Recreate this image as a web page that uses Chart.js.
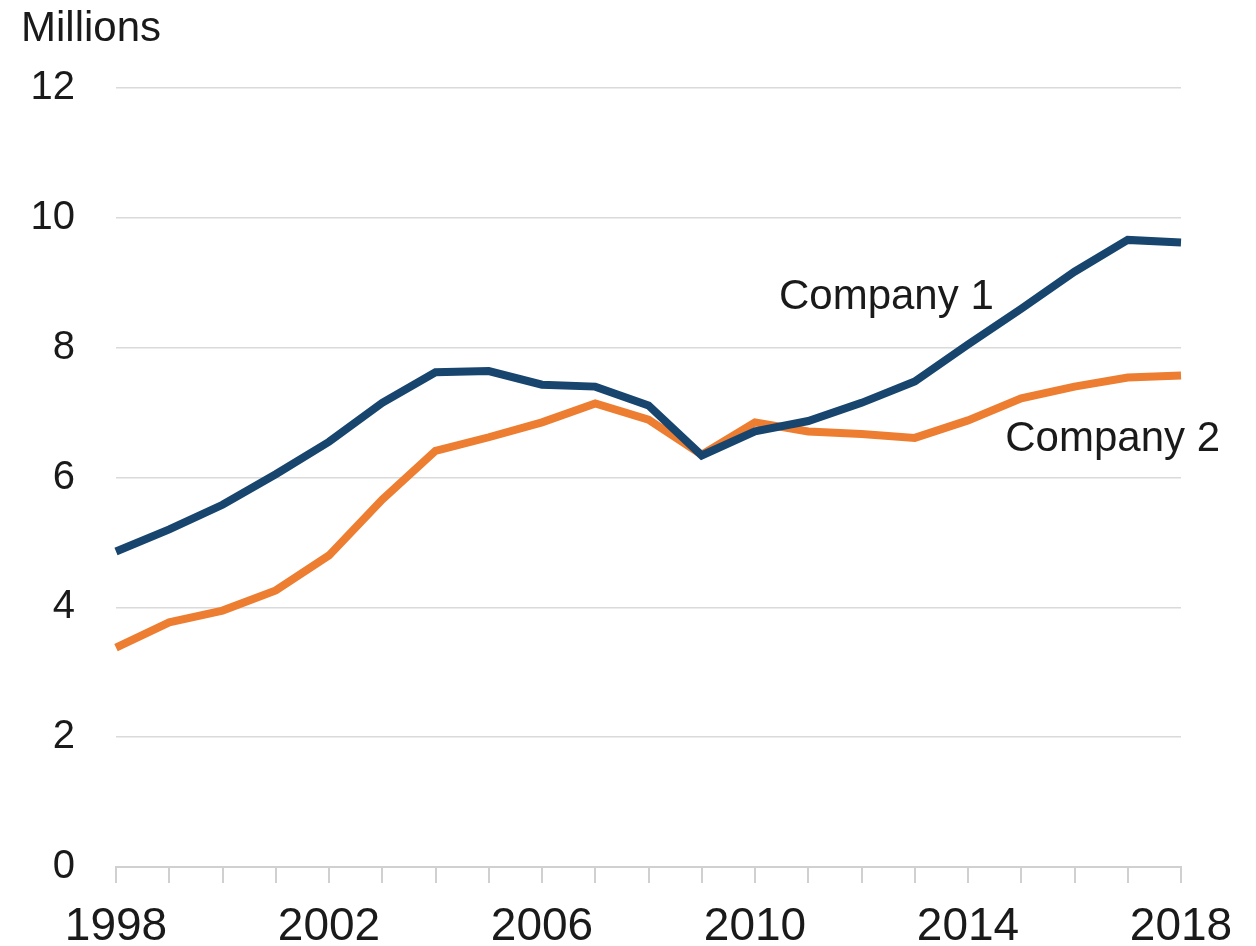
<!DOCTYPE html>
<html>
<head>
<meta charset="utf-8">
<script src="https://cdn.jsdelivr.net/npm/chart.js@4.4.1/dist/chart.umd.min.js"></script>
<style>
  html, body { margin: 0; padding: 0; background: #fff; }
  #wrap { width: 1256px; height: 946px; position: relative; }
</style>
</head>
<body>
<div id="wrap"><canvas id="chart"></canvas></div>
<script>
const years = ['1998','1999','2000','2001','2002','2003','2004','2005','2006','2007','2008',
               '2009','2010','2011','2012','2013','2014','2015','2016','2017','2018'];

const company1 = [4.86, 5.2, 5.58, 6.05, 6.55, 7.15, 7.62, 7.64, 7.43, 7.4, 7.11,
                  6.34, 6.71, 6.87, 7.15, 7.48, 8.05, 8.6, 9.17, 9.66, 9.62];

const company2 = [3.38, 3.77, 3.95, 4.26, 4.8, 5.66, 6.41, 6.62, 6.85, 7.14, 6.89,
                  6.35, 6.85, 6.71, 6.67, 6.61, 6.88, 7.22, 7.4, 7.54, 7.57];

const yTicks = [0, 2, 4, 6, 8, 10, 12];

// series name labels placed next to the lines (x = year index, y = value)
const seriesLabels = [
    { text: 'Company 1', x: 12.45, y: 8.77 },
    { text: 'Company 2', x: 16.7, y: 6.58 }
];

const FONT = '"Liberation Sans", Arial, sans-serif';
const TEXT = '#1a1a1a';

const labelPlugin = {
    id: 'labels',
    afterDatasetsDraw(chart) {
        const { ctx, scales: { x, y } } = chart;
        ctx.save();
        ctx.fillStyle = TEXT;
        ctx.font = '42px ' + FONT;
        ctx.textAlign = 'left';
        ctx.textBaseline = 'middle';
        seriesLabels.forEach(l => {
            ctx.fillText(l.text, x.getPixelForValue(l.x), y.getPixelForValue(l.y));
        });
        // unit title above the value axis
        ctx.font = '42px ' + FONT;
        ctx.textBaseline = 'top';
        ctx.fillText('Millions', 21, 8);
        ctx.restore();
    }
};

const ctx = document.getElementById('chart').getContext('2d');

new Chart(ctx, {
    type: 'line',
    data: {
        labels: years,
        datasets: [
            { label: 'Company 1', data: company1, borderColor: '#17456e', borderWidth: 8,
              pointRadius: 0, tension: 0, borderJoinStyle: 'miter' },
            { label: 'Company 2', data: company2, borderColor: '#ed7d31', borderWidth: 8,
              pointRadius: 0, tension: 0, borderJoinStyle: 'miter' }
        ]
    },
    options: {
        responsive: true,
        maintainAspectRatio: false,
        animation: false,
        layout: { padding: { top: 88, right: 75, left: 0, bottom: 0 } },
        plugins: { legend: { display: false }, tooltip: { enabled: false } },
        scales: {
            x: {
                offset: false,
                afterFit: axis => { axis.height = 79; },
                grid: { drawOnChartArea: false, drawTicks: true, tickLength: 16, color: '#d0d0d0', lineWidth: 2 },
                border: { display: true, color: '#d0d0d0', width: 2 },
                ticks: {
                    autoSkip: false, maxRotation: 0, padding: 17,
                    color: TEXT, font: { family: FONT, size: 46 },
                    callback: (v, i) => (i % 4 === 0 ? years[i] : '')
                }
            },
            y: {
                min: 0, max: 12,
                afterBuildTicks: axis => { axis.ticks = yTicks.map(v => ({ value: v })); },
                afterFit: axis => { axis.width = 116; },
                grid: { color: '#dadada', lineWidth: 1.5, drawTicks: false },
                border: { display: false },
                ticks: { padding: 41, color: TEXT, font: { family: FONT, size: 40 } }
            }
        }
    },
    plugins: [labelPlugin]
});
</script>
</body>
</html>
